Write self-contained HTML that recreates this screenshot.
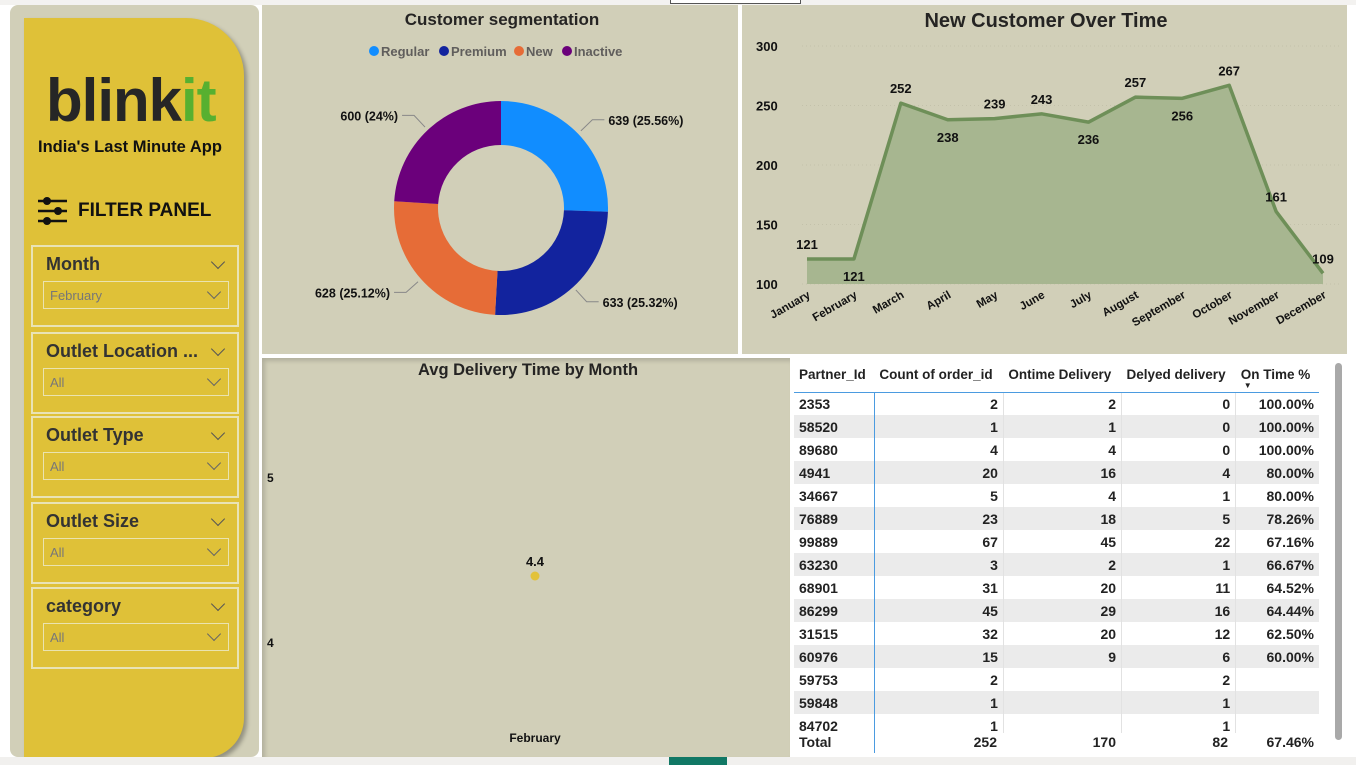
<!DOCTYPE html>
<html><head><meta charset="utf-8">
<style>
*{margin:0;padding:0;box-sizing:border-box}
body{width:1356px;height:765px;background:#fff;position:relative;overflow:hidden;font-family:"Liberation Sans",sans-serif;color:#222}
.abs{position:absolute}
.panel{position:absolute;background:#d1cfb8}
.slicer{position:absolute;left:31px;width:208px;border:2px solid #e9e3b5;height:82px}
.slicer .t{position:absolute;left:13px;top:7px;font-size:18px;font-weight:bold;color:#333}
.slicer .chev{position:absolute;right:14px;top:10px;width:10px;height:10px;border-right:1.5px solid #555;border-bottom:1.5px solid #555;transform:rotate(45deg)}
.slicer .dd{position:absolute;left:10px;top:34px;width:186px;height:28px;border:1.5px solid #eae3b0;font-size:13px;color:#777;padding:6px 0 0 6px}
.slicer .dd:after{content:"";position:absolute;right:9px;top:5px;width:9px;height:9px;border-right:1.5px solid #666;border-bottom:1.5px solid #666;transform:rotate(45deg)}
table{border-collapse:collapse;font-size:14px;font-weight:bold;color:#222}
td,th{height:23px;padding:0 5px;white-space:nowrap}
th{font-size:13.5px;text-align:left;height:35px;vertical-align:middle;border-bottom:1.5px solid #4b9be0}
td{text-align:right;border-left:1px solid #e2e2e2}
td:first-child{text-align:left;border-left:none;border-right:1px solid #4b9be0}
tr.g td{background:#ebebeb}
</style></head><body>
<div class="abs" style="left:0;top:0;width:1356px;height:5px;background:#f3f2f0"></div>
<div class="abs" style="left:670px;top:0;width:131px;height:4px;border:1px solid #555;border-top:none;background:#fff"></div>

<div class="panel" style="left:10px;top:5px;width:249px;height:752px;border-radius:8px"></div>
<div class="abs" style="left:24px;top:18px;width:220px;height:740px;background:#dfc138;border-radius:0 58px 40px 0;box-shadow:3px 3px 4px rgba(0,0,0,.3)"></div>
<div class="abs" style="left:46px;top:70px;font-size:60px;font-weight:bold;color:#262626;letter-spacing:-1px;line-height:62px">blink<span style="color:#57b030">it</span></div>
<div class="abs" style="left:38px;top:138px;font-size:16.5px;font-weight:bold;color:#111">India's Last Minute App</div>
<svg class="abs" style="left:37px;top:196px" width="32" height="30"><g stroke="#111" stroke-width="2.5"><line x1="1" y1="5" x2="30" y2="5"/><line x1="1" y1="15" x2="30" y2="15"/><line x1="1" y1="25" x2="30" y2="25"/></g><circle cx="10" cy="5" r="4" fill="#111"/><circle cx="21" cy="15" r="4" fill="#111"/><circle cx="10" cy="25" r="4" fill="#111"/></svg>
<div class="abs" style="left:78px;top:200px;font-size:19px;font-weight:bold;color:#111">FILTER PANEL</div>

<div class="slicer" style="top:245px"><div class="t">Month</div><div class="chev"></div><div class="dd">February</div></div>
<div class="slicer" style="top:332px"><div class="t">Outlet Location ...</div><div class="chev"></div><div class="dd">All</div></div>
<div class="slicer" style="top:416px"><div class="t">Outlet Type</div><div class="chev"></div><div class="dd">All</div></div>
<div class="slicer" style="top:502px"><div class="t">Outlet Size</div><div class="chev"></div><div class="dd">All</div></div>
<div class="slicer" style="top:587px"><div class="t">category</div><div class="chev"></div><div class="dd">All</div></div>

<div class="panel" style="left:262px;top:5px;width:476px;height:349px"></div>
<svg class="abs" id="donut" style="left:262px;top:5px" width="476" height="349"></svg>

<div class="panel" style="left:742px;top:5px;width:605px;height:349px"></div>
<svg class="abs" id="line" style="left:742px;top:5px" width="605" height="349"></svg>

<div class="panel" style="left:262px;top:358px;width:528px;height:399px;box-shadow:inset 3px 3px 4px rgba(0,0,0,.15)"></div>
<svg class="abs" id="avg" style="left:262px;top:358px" width="528" height="399"></svg>

<div class="abs" style="left:794px;top:357px;width:530px;height:398px;overflow:hidden">
<table id="tbl" style="width:525px">
<thead><tr><th>Partner_Id</th><th>Count of order_id</th><th>Ontime Delivery</th><th>Delyed delivery</th><th style="position:relative">On Time %<span style="position:absolute;left:8px;top:24px;font-size:8px">▼</span></th></tr></thead>
<tbody id="tb"></tbody>
</table>
</div>
<div class="abs" style="left:794px;top:733px;width:530px;height:20px;background:#fff;font-size:14px;font-weight:bold">
<span class="abs" style="left:5px;top:1px">Total</span><span class="abs" style="right:327px;top:1px">252</span><span class="abs" style="right:208px;top:1px">170</span><span class="abs" style="right:96px;top:1px">82</span><span class="abs" style="right:10px;top:1px">67.46%</span>
<div class="abs" style="left:80px;top:0;width:1px;height:20px;background:#4b9be0"></div></div>
<div class="abs" style="left:1335px;top:363px;width:7px;height:377px;background:#a9a9a9;border-radius:4px"></div>

<div class="abs" style="left:0;top:757px;width:1356px;height:8px;background:#f1f0ee"></div>
<div class="abs" style="left:669px;top:757px;width:58px;height:8px;background:#117865"></div>

<script>
const NS="http://www.w3.org/2000/svg";
function mk(p,tag,a,txt){const e=document.createElementNS(NS,tag);for(const k in a)e.setAttribute(k,a[k]);if(txt!==undefined)e.textContent=txt;p.appendChild(e);return e;}

const segNames=["Regular","Premium","New","Inactive"];
const segValues=[639,633,628,600];
const segColors=["#118dff","#12239e","#e66c37","#6b007b"];
const d=document.getElementById('donut');
let t=mk(d,'text',{x:240,y:20,'text-anchor':'middle','font-size':17,'font-weight':'bold',fill:'#252423'},'Customer segmentation');

let lx=[112,182,257,305];
segNames.forEach((n,i)=>{
 mk(d,'circle',{cx:lx[i],cy:46,r:5,fill:segColors[i]});
 const tx=mk(d,'text',{x:lx[i]+7,y:51,'font-size':13,'font-weight':'bold',fill:'#605e5c'},n);
 
 
});
const cx=239,cy=203,R=107,r=63,total=segValues.reduce((a,b)=>a+b,0);
let ang=-Math.PI/2;
segValues.forEach((v,i)=>{
 const a2=ang+v/total*2*Math.PI;
 const P=(rad,a)=>[cx+rad*Math.cos(a),cy+rad*Math.sin(a)];
 const [x1,y1]=P(R,ang),[x2,y2]=P(R,a2),[x3,y3]=P(r,a2),[x4,y4]=P(r,ang);
 const lg=(a2-ang)>Math.PI?1:0;
 const p=mk(d,'path',{d:`M${x1},${y1}A${R},${R} 0 ${lg} 1 ${x2},${y2}L${x3},${y3}A${r},${r} 0 ${lg} 0 ${x4},${y4}Z`,fill:segColors[i]});
 
 
 const m=(ang+a2)/2,[ex,ey]=P(R+4,m),[fx,fy]=P(R+20,m);
 const right=Math.cos(m)>0;
 const gx=fx+(right?12:-12);
 mk(d,'polyline',{points:`${ex},${ey} ${fx},${fy} ${gx},${fy}`,fill:'none',stroke:'#888','stroke-width':1});
 const pct=(v/total*100);
 const ps=Math.abs(pct-Math.round(pct))<1e-9?Math.round(pct)+'%':pct.toFixed(2)+'%';
 const lb=mk(d,'text',{x:gx+(right?4:-4),y:fy+5,'text-anchor':right?'start':'end','font-size':12.5,'font-weight':'bold',fill:'#111'},v+' ('+ps+')');
 
 
 ang=a2;
});

const months=["January","February","March","April","May","June","July","August","September","October","November","December"];
const newCust=[121,121,252,238,239,243,236,257,256,267,161,109];
const yTicks=[100,150,200,250,300];
const labelAbove=[true,false,true,false,true,true,false,true,false,true,true,true];
const L=document.getElementById('line');
const X=i=>65+i*(581-65)/11, Y=v=>279-(v-100)/200*(279-41);
t=mk(L,'text',{x:304,y:22,'text-anchor':'middle','font-size':20,'font-weight':'bold',fill:'#252423'},'New Customer Over Time');

yTicks.forEach(v=>{
 mk(L,'line',{x1:60,x2:600,y1:Y(v),y2:Y(v),stroke:'#c3c1aa','stroke-dasharray':'1 3'});
 const tk=mk(L,'text',{x:14,y:Y(v)+5,'font-size':13,'font-weight':'bold',fill:'#111'},v);
 
});
let pts=newCust.map((v,i)=>X(i)+','+Y(v)).join(' ');
const ar=mk(L,'polygon',{points:`${X(0)},${Y(100)} ${pts} ${X(11)},${Y(100)}`,fill:'#a7b690'});

const pl=mk(L,'polyline',{points:pts,fill:'none',stroke:'#6e8f58','stroke-width':3.5,'stroke-linejoin':'round'});

newCust.forEach((v,i)=>{
 const lb=mk(L,'text',{x:X(i),y:labelAbove[i]?Y(v)-10:Y(v)+22,'text-anchor':'middle','font-size':13,'font-weight':'bold',fill:'#111'},v);
 
 const ml=mk(L,'text',{x:X(i)+4,y:292,'text-anchor':'end','font-size':11.5,'font-weight':'bold',fill:'#111',transform:`rotate(-30 ${X(i)+4} 292)`},months[i]);
 
});

const avgMonths=["February"];
const avgValues=[4.4];
const avgTicks=[4,5];
const A=document.getElementById('avg');
const AY=v=>284-(v-4)*(284-119);
t=mk(A,'text',{x:266,y:17,'text-anchor':'middle','font-size':16.5,'font-weight':'bold',fill:'#252423'},'Avg Delivery Time by Month');

avgTicks.forEach(v=>{const tk=mk(A,'text',{x:5,y:AY(v)+5,'font-size':12,'font-weight':'bold',fill:'#111'},v);
 });
avgValues.forEach((v,i)=>{
 const px=273;
 const c=mk(A,'circle',{cx:px,cy:AY(v),r:4.5,fill:'#e2c23a'});
 
 const lb=mk(A,'text',{x:px,y:AY(v)-10,'text-anchor':'middle','font-size':13,'font-weight':'bold',fill:'#111'},v);
 
 const xl=mk(A,'text',{x:px,y:384,'text-anchor':'middle','font-size':12,'font-weight':'bold',fill:'#111'},avgMonths[i]);
 
});

const rows=[["2353",2,2,0,"100.00%"],["58520",1,1,0,"100.00%"],["89680",4,4,0,"100.00%"],["4941",20,16,4,"80.00%"],["34667",5,4,1,"80.00%"],["76889",23,18,5,"78.26%"],["99889",67,45,22,"67.16%"],["63230",3,2,1,"66.67%"],["68901",31,20,11,"64.52%"],["86299",45,29,16,"64.44%"],["31515",32,20,12,"62.50%"],["60976",15,9,6,"60.00%"],["59753",2,"",2,""],["59848",1,"",1,""],["84702",1,"",1,""]];
const tb=document.getElementById('tb');
rows.forEach((r,i)=>{
 const tr=document.createElement('tr');
 if(i%2==1)tr.className='g';
 
 
 r.forEach(c=>{const td=document.createElement('td');td.textContent=c;tr.appendChild(td);});
 tb.appendChild(tr);
});
</script>
</body></html>
